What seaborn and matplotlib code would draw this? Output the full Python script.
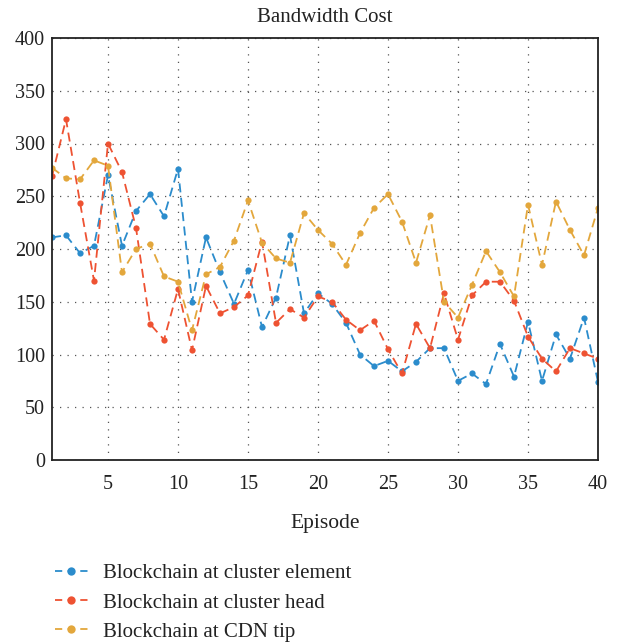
import numpy as np
import pandas as pd
import matplotlib
matplotlib.use("Agg")
import matplotlib.pyplot as plt
import seaborn as sns
from matplotlib.lines import Line2D

episodes = list(range(1, 41))
cluster_element = [211, 213, 196, 203, 270, 203, 236, 252, 231, 276,
                   150, 211, 178, 148, 180, 126, 154, 213, 139, 158,
                   148, 130, 100, 89, 94, 84, 93, 106, 106, 75,
                   82, 72, 110, 79, 131, 75, 119, 96, 135, 74]
cluster_head = [269, 323, 244, 170, 300, 273, 220, 129, 114, 162,
                104, 165, 139, 145, 156, 207, 130, 143, 135, 155,
                150, 133, 123, 132, 105, 82, 129, 106, 158, 114,
                156, 169, 169, 151, 117, 96, 84, 106, 101, 96]
cdn_tip = [277, 267, 266, 284, 279, 178, 200, 205, 174, 169,
           123, 176, 183, 208, 246, 206, 191, 187, 234, 218,
           205, 185, 215, 239, 252, 226, 187, 232, 150, 135,
           166, 198, 178, 155, 242, 185, 245, 218, 194, 239]
series_names = ["Blockchain at cluster element",
                "Blockchain at cluster head",
                "Blockchain at CDN tip"]
colors = ["#2b8ccc", "#ee5232", "#e3a73c"]

df = pd.DataFrame({
    "Episode": episodes * 3,
    "Cost": cluster_element + cluster_head + cdn_tip,
    "Series": [series_names[0]] * 40 + [series_names[1]] * 40 + [series_names[2]] * 40,
})

sns.set_style("white")
plt.rcParams['font.family'] = ['Liberation Serif', 'DejaVu Serif']

fig = plt.figure(figsize=(6.21, 6.43), dpi=100)
ax = fig.add_axes([52/621, 1-460/643, (598-52)/621, (460-38)/643])

sns.lineplot(data=df, x="Episode", y="Cost", hue="Series",
             palette=dict(zip(series_names, colors)),
             marker="o", markersize=4.5, markeredgewidth=0,
             linewidth=1.3, dashes=False, ax=ax, legend=False)
for line in ax.lines:
    line.set_linestyle((0, (5, 3)))

ax.set_xlim(1, 40)
ax.set_ylim(0, 400)
ax.set_xticks([5, 10, 15, 20, 25, 30, 35, 40])
ax.set_yticks([0, 50, 100, 150, 200, 250, 300, 350, 400])
ax.grid(True, color="#555555", linestyle=(0, (1, 5)), linewidth=0.9)
ax.tick_params(axis="both", length=0, labelsize=14.5, colors="#222222")
ax.tick_params(axis="x", pad=11)
ax.tick_params(axis="y", pad=5)
for s in ax.spines.values():
    s.set_visible(True)
    s.set_color("#222222")
    s.set_linewidth(1.3)
ax.set_xlabel("Episode", fontsize=15.5, labelpad=14, color="#222222")
ax.set_ylabel("")
fig.text((52 + 598) / 2 / 621, 1 - 17/643, "Bandwidth Cost", ha="center",
         va="center", fontsize=15, color="#222222")

handles = [Line2D([0], [0], color=c, linestyle=(0, (4, 3)), linewidth=1.3,
                  marker="o", markersize=6, markeredgewidth=0) for c in colors]
fig.legend(handles, series_names, loc="upper left",
           bbox_to_anchor=(36/621, 1-545/643), frameon=False,
           fontsize=15, handlelength=1.6, handletextpad=0.7,
           labelspacing=0.46, labelcolor="#222222")

fig.savefig("out.png", dpi=100)
